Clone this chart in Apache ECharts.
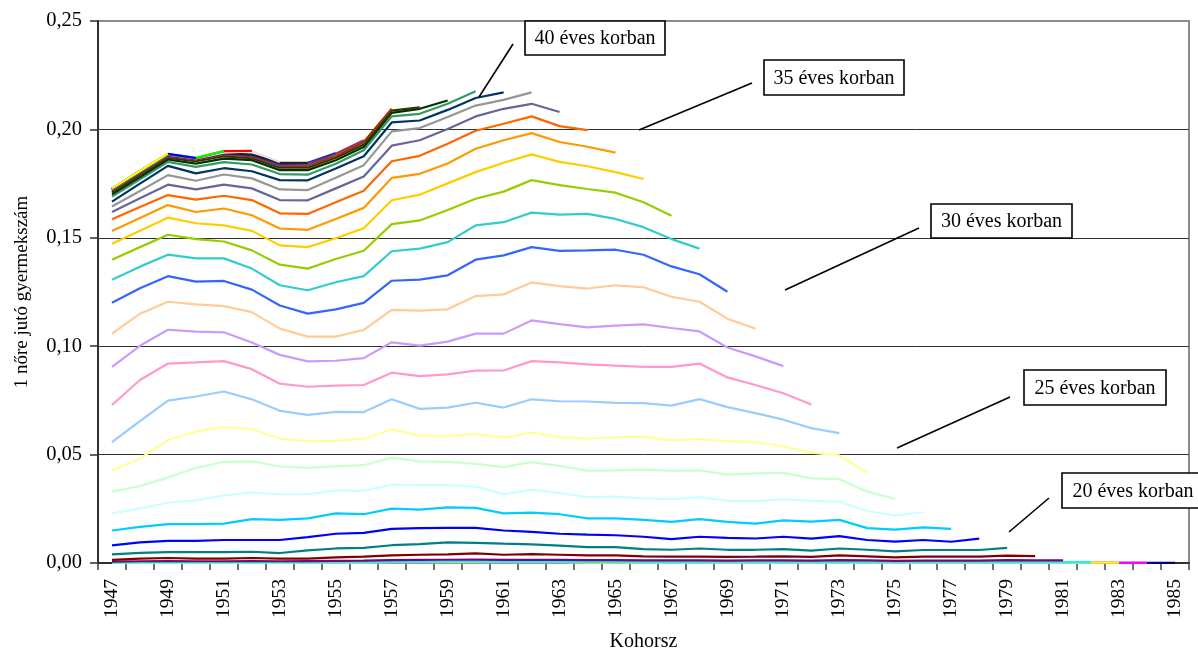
<!DOCTYPE html>
<html>
<head>
<meta charset="utf-8">
<script src="https://cdn.jsdelivr.net/npm/echarts@6/dist/echarts.min.js"></script>
<style>html,body{margin:0;padding:0;background:#fff}#c{width:1198px;height:657px}</style>
</head>
<body>
<div id="c"></div>
<script>
const years = ['1947','1948','1949','1950','1951','1952','1953','1954','1955','1956','1957','1958','1959','1960','1961','1962','1963','1964','1965','1966','1967','1968','1969','1970','1971','1972','1973','1974','1975','1976','1977','1978','1979','1980','1981','1982','1983','1984','1985'];
const yTicks = [0, 0.05, 0.10, 0.15, 0.20, 0.25];

// cohort values by age (each ends at cohort 2000-age)
const a15 = [0.00003,0.00003,0.00004,0.00003,0.00003,0.00004,0.00003,0.00004,0.00004,0.00005,0.00006,0.00006,0.00007,0.00007,0.00006,0.00006,0.00006,0.00005,0.00005,0.00005,0.00004,0.00005,0.00004,0.00004,0.00005,0.00004,0.00005,0.00004,0.00004,0.00004,0.00004,0.00004,0.00005,0.00004,0.00004,0.00004,0.00004,0.00003,0.00003];
const a16 = [0.0001,0.0001,0.0001,0.0001,0.0001,0.0001,0.0001,0.0001,0.0001,0.0001,0.0002,0.0002,0.0002,0.0002,0.0002,0.0002,0.0002,0.0002,0.0002,0.0001,0.0001,0.0001,0.0001,0.0001,0.0001,0.0001,0.0002,0.0001,0.0001,0.0001,0.0001,0.0001,0.0002,0.0001,0.0001,0.0001,0.0001,0.0001];
const a17 = [0.0001,0.0001,0.0002,0.0001,0.0001,0.0002,0.0001,0.0002,0.0002,0.0002,0.0003,0.0003,0.0003,0.0003,0.0003,0.0003,0.0003,0.0002,0.0002,0.0002,0.0002,0.0002,0.0002,0.0002,0.0002,0.0002,0.0003,0.0002,0.0002,0.0002,0.0002,0.0002,0.0003,0.0002,0.0002,0.0002,0.0002];
const a18 = [0.0002,0.0003,0.0003,0.0003,0.0003,0.0003,0.0003,0.0003,0.0004,0.0004,0.0005,0.0005,0.0006,0.0006,0.0005,0.0005,0.0005,0.0005,0.0005,0.0004,0.0004,0.0004,0.0004,0.0004,0.0004,0.0004,0.0005,0.0004,0.0004,0.0004,0.0004,0.0004,0.0005,0.0004,0.0004,0.0004];
const a19 = [0.0006,0.0008,0.0009,0.0008,0.0008,0.0009,0.0008,0.0009,0.0010,0.0011,0.0013,0.0014,0.0015,0.0016,0.0014,0.0015,0.0014,0.0013,0.0013,0.0012,0.0012,0.0012,0.0011,0.0012,0.0012,0.0011,0.0013,0.0012,0.0010,0.0011,0.0011,0.0011,0.0013,0.0012,0.0012];
const a20 = [0.0014,0.0020,0.0023,0.0020,0.0020,0.0023,0.0020,0.0020,0.0026,0.0029,0.0035,0.0038,0.0040,0.0044,0.0038,0.0041,0.0038,0.0035,0.0035,0.0031,0.0029,0.0029,0.0028,0.0029,0.0031,0.0028,0.0035,0.0031,0.0026,0.0029,0.0029,0.0029,0.0034,0.0032];
const a21 = [0.0040,0.0047,0.0050,0.0050,0.0050,0.0052,0.0046,0.0058,0.0067,0.0070,0.0082,0.0087,0.0095,0.0093,0.0089,0.0086,0.0080,0.0073,0.0073,0.0064,0.0061,0.0067,0.0061,0.0061,0.0064,0.0057,0.0067,0.0061,0.0054,0.0060,0.0060,0.0060,0.0070];
const a22 = [0.0081,0.0095,0.0102,0.0102,0.0106,0.0106,0.0106,0.0119,0.0135,0.0139,0.0157,0.0161,0.0162,0.0162,0.0150,0.0144,0.0135,0.0131,0.0128,0.0121,0.0110,0.0121,0.0116,0.0113,0.0121,0.0112,0.0124,0.0106,0.0099,0.0106,0.0098,0.0112];
const a23 = [0.0150,0.0167,0.0179,0.0179,0.0182,0.0202,0.0199,0.0206,0.0229,0.0225,0.0251,0.0246,0.0257,0.0254,0.0229,0.0232,0.0225,0.0206,0.0206,0.0199,0.0190,0.0202,0.0190,0.0182,0.0197,0.0191,0.0199,0.0161,0.0154,0.0164,0.0157];
const a24 = [0.0229,0.0252,0.0278,0.0289,0.0312,0.0326,0.0317,0.0317,0.0335,0.0333,0.0362,0.0359,0.0359,0.0352,0.0318,0.0338,0.0323,0.0304,0.0306,0.0298,0.0295,0.0304,0.0287,0.0284,0.0294,0.0287,0.0283,0.0240,0.0219,0.0234];
const a25 = [0.0329,0.0355,0.0394,0.0439,0.0466,0.0469,0.0445,0.0439,0.0446,0.0451,0.0486,0.0469,0.0466,0.0457,0.0442,0.0465,0.0448,0.0425,0.0427,0.0431,0.0425,0.0427,0.0408,0.0413,0.0416,0.0390,0.0387,0.0329,0.0295];
const a26 = [0.0427,0.0482,0.0566,0.0607,0.0627,0.0618,0.0573,0.0561,0.0563,0.0573,0.0616,0.0589,0.0586,0.0595,0.0578,0.0601,0.0581,0.0573,0.0580,0.0583,0.0566,0.0572,0.0561,0.0558,0.0538,0.0509,0.0496,0.0416];
const a27 = [0.0558,0.0654,0.0749,0.0768,0.0791,0.0755,0.0702,0.0683,0.0697,0.0696,0.0755,0.0711,0.0717,0.0739,0.0717,0.0755,0.0746,0.0745,0.0739,0.0737,0.0726,0.0756,0.0719,0.0691,0.0661,0.0622,0.0599];
const a28 = [0.0729,0.0844,0.0920,0.0925,0.0931,0.0894,0.0827,0.0813,0.0818,0.0821,0.0878,0.0862,0.0870,0.0887,0.0888,0.0931,0.0925,0.0916,0.0910,0.0905,0.0905,0.0920,0.0856,0.0821,0.0783,0.0731];
const a29 = [0.0905,0.1002,0.1076,0.1067,0.1064,0.1017,0.0960,0.0930,0.0933,0.0945,0.1018,0.1003,0.1021,0.1058,0.1058,0.1119,0.1102,0.1087,0.1095,0.1101,0.1084,0.1068,0.0994,0.0953,0.0908];
const a30 = [0.1058,0.1150,0.1205,0.1193,0.1185,0.1157,0.1081,0.1044,0.1044,0.1075,0.1168,0.1164,0.1170,0.1231,0.1239,0.1294,0.1277,0.1266,0.1281,0.1272,0.1228,0.1205,0.1127,0.1081];
const a31 = [0.1200,0.1267,0.1323,0.1298,0.1301,0.1261,0.1188,0.1150,0.1170,0.1200,0.1302,0.1307,0.1327,0.1399,0.1419,0.1457,0.1440,0.1442,0.1445,0.1422,0.1368,0.1332,0.1251];
const a32 = [0.1307,0.1367,0.1422,0.1405,0.1405,0.1358,0.1281,0.1258,0.1295,0.1323,0.1438,0.1450,0.1480,0.1557,0.1572,0.1616,0.1607,0.1610,0.1587,0.1549,0.1494,0.1450];
const a33 = [0.1399,0.1457,0.1514,0.1494,0.1483,0.1442,0.1376,0.1358,0.1402,0.1440,0.1563,0.1580,0.1628,0.1680,0.1713,0.1766,0.1743,0.1725,0.1708,0.1664,0.1602];
const a34 = [0.1472,0.1532,0.1593,0.1567,0.1557,0.1532,0.1465,0.1457,0.1498,0.1544,0.1673,0.1699,0.1751,0.1803,0.1846,0.1885,0.1850,0.1830,0.1803,0.1771];
const a35 = [0.1531,0.1591,0.1651,0.1619,0.1635,0.1604,0.1543,0.1537,0.1587,0.1638,0.1776,0.1795,0.1843,0.1911,0.1950,0.1983,0.1942,0.1920,0.1893];
const a36 = [0.1586,0.1642,0.1697,0.1676,0.1694,0.1674,0.1613,0.1610,0.1664,0.1717,0.1853,0.1878,0.1934,0.1994,0.2026,0.2060,0.2015,0.1997];
const a37 = [0.1619,0.1682,0.1745,0.1723,0.1745,0.1728,0.1674,0.1673,0.1728,0.1783,0.1925,0.1950,0.2002,0.2060,0.2095,0.2118,0.2080];
const a38 = [0.1644,0.1716,0.1789,0.1763,0.1792,0.1774,0.1723,0.1720,0.1777,0.1835,0.1991,0.2006,0.2057,0.2110,0.2136,0.2171];
const a39 = [0.1667,0.1750,0.1832,0.1797,0.1821,0.1807,0.1766,0.1765,0.1820,0.1876,0.2032,0.2041,0.2090,0.2145,0.2171];
const a40 = [0.1690,0.1770,0.1850,0.1827,0.1849,0.1838,0.1794,0.1791,0.1842,0.1904,0.2060,0.2072,0.2118,0.2176];
const a41 = [0.1700,0.1780,0.1861,0.1842,0.1865,0.1858,0.1812,0.1812,0.1858,0.1919,0.2076,0.2095,0.2133];
const a42 = [0.1710,0.1790,0.1869,0.1853,0.1876,0.1867,0.1823,0.1823,0.1869,0.1930,0.2087,0.2102];
const a43 = [0.1717,0.1797,0.1876,0.1861,0.1884,0.1876,0.1832,0.1832,0.1876,0.1942,0.2095];
const a44 = [0.1719,0.1799,0.1878,0.1863,0.1886,0.1878,0.1835,0.1836,0.1888,0.1950];
const a45 = [0.1721,0.1801,0.1880,0.1864,0.1888,0.1881,0.1840,0.1846,0.1891];
const a46 = [0.1723,0.1803,0.1882,0.1865,0.1890,0.1884,0.1846,0.1846];
const a47 = [0.1724,0.1805,0.1884,0.1866,0.1893,0.1899,0.1850];
const a48 = [0.1725,0.1806,0.1885,0.1867,0.1900,0.1901];
const a49 = [0.1726,0.1807,0.1886,0.1870,0.1900];
const a50 = [0.1727,0.1808,0.1887,0.1868];
const a51 = [0.1728,0.1808,0.1888];

const ages = [15,16,17,18,19,20,21,22,23,24,25,26,27,28,29,30,31,32,33,34,35,36,37,38,39,40,41,42,43,44,45,46,47,48,49,50,51];
const ageData = [a15,a16,a17,a18,a19,a20,a21,a22,a23,a24,a25,a26,a27,a28,a29,a30,a31,a32,a33,a34,a35,a36,a37,a38,a39,a40,a41,a42,a43,a44,a45,a46,a47,a48,a49,a50,a51];
const lineColors = ['#000080','#FF00FF','#FFFF00','#00FFFF','#800080','#800000','#008080','#0000FF','#00CCFF','#CCFFFF','#CCFFCC','#FFFF99','#99CCFF','#FF99CC','#CC99FF','#FFCC99','#3366FF','#33CCCC','#99CC00','#FFCC00','#FF9900','#FF6600','#666699','#969696','#003366','#339966','#003300','#333300','#993300','#993366','#333399','#222222','#E4E4E4','#FF0000','#00FF00','#0000FF','#FFFF00'];

const annotations = [
  {text:'40 éves korban', box:[525,21,140,34], line:[513,44,479,97]},
  {text:'35 éves korban', box:[764,60,140,35], line:[752,83,639,130]},
  {text:'30 éves korban', box:[931,204,141,34], line:[919,228,785,290]},
  {text:'25 éves korban', box:[1024,370,142,35], line:[1010,397,897,448]},
  {text:'20 éves korban', box:[1062,473,142,35], line:[1049,498,1009,532]}
];

const FONT = '"Liberation Serif","Times New Roman",serif';

const series = ageData.map((d, i) => ({
  name: ages[i] + ' éves korban',
  type: 'line',
  data: d,
  symbol: 'none',
  lineStyle: {width: 2.2, color: lineColors[i]},
  itemStyle: {color: lineColors[i]},
  silent: true
}));

const graphics = [];
annotations.forEach(a => {
  graphics.push({type:'line', z:100, shape:{x1:a.line[0],y1:a.line[1],x2:a.line[2],y2:a.line[3]}, style:{stroke:'#000', lineWidth:1.6}});
  graphics.push({type:'rect', z:100, shape:{x:a.box[0],y:a.box[1],width:a.box[2],height:a.box[3]}, style:{fill:'#fff', stroke:'#000', lineWidth:1.6}});
  graphics.push({type:'text', z:101, x:a.box[0]+a.box[2]/2, y:a.box[1]+a.box[3]/2+1, style:{text:a.text, fill:'#000', font:'20px ' + FONT, align:'center', verticalAlign:'middle'}});
});

const chart = echarts.init(document.getElementById('c'), null, {renderer:'canvas'});
chart.setOption({
  animation: false,
  backgroundColor: '#fff',
  grid: {left: 98, right: 9, top: 21, bottom: 92, show: true, borderColor: '#8c8c8c', borderWidth: 2, backgroundColor: 'transparent'},
  xAxis: {
    type: 'category',
    data: years,
    boundaryGap: true,
    name: 'Kohorsz',
    nameLocation: 'middle',
    nameGap: 69,
    nameTextStyle: {fontFamily: FONT, fontSize: 20, color: '#000'},
    axisLine: {lineStyle: {color: '#303030', width: 2}},
    axisTick: {show: true, interval: 0, length: 7, lineStyle: {color: '#404040', width: 1.5}},
    axisLabel: {interval: 1, rotate: 90, fontFamily: FONT, fontSize: 19.5, color: '#000', margin: 16},
    splitLine: {show: false}
  },
  yAxis: {
    type: 'value',
    min: 0, max: 0.25, interval: 0.05,
    name: '1 nőre jutó gyermekszám',
    nameLocation: 'middle',
    nameGap: 66,
    nameTextStyle: {fontFamily: FONT, fontSize: 19, color: '#000'},
    axisLine: {show: true, lineStyle: {color: '#303030', width: 2}},
    axisTick: {show: true, length: 8, lineStyle: {color: '#303030', width: 1.5}},
    axisLabel: {fontFamily: FONT, fontSize: 20.5, color: '#000', margin: 16,
      formatter: v => yTicks.some(t => Math.abs(t - v) < 1e-9) ? v.toFixed(2).replace('.', ',') : ''},
    splitLine: {show: true, lineStyle: {color: ['#303030','#303030','#303030','#303030','#303030','#8c8c8c'], width: 1}}
  },
  series: series,
  graphic: graphics
});
</script>
</body>
</html>
